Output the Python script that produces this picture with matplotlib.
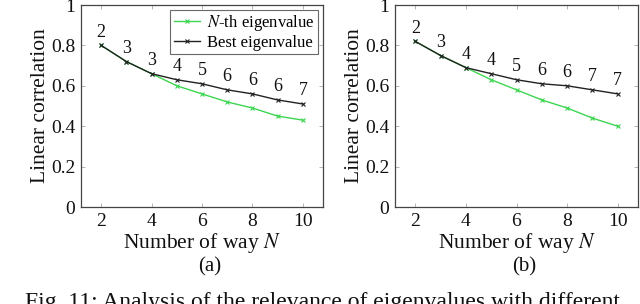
import matplotlib
matplotlib.use("Agg")
import matplotlib.pyplot as plt

plt.rcParams["font.family"] = ["Liberation Serif", "DejaVu Serif"]
plt.rcParams["mathtext.fontset"] = "stix"

ways = [2, 3, 4, 5, 6, 7, 8, 9, 10]

nth_a = [0.80, 0.72, 0.66, 0.60, 0.56, 0.52, 0.49, 0.45, 0.43]
best_a = [0.80, 0.72, 0.66, 0.63, 0.61, 0.58, 0.56, 0.53, 0.51]
best_idx_a = ["2", "3", "3", "4", "5", "6", "6", "6", "7"]

nth_b = [0.82, 0.75, 0.69, 0.63, 0.58, 0.53, 0.49, 0.44, 0.40]
best_b = [0.82, 0.75, 0.69, 0.66, 0.63, 0.61, 0.60, 0.58, 0.56]
best_idx_b = ["2", "3", "4", "4", "5", "6", "6", "7", "7"]

GREEN = "#3cd650"
DARK = "#222222"
FRAME = "#444444"

W, H = 640, 304
fig = plt.figure(figsize=(W / 100, H / 100), dpi=100)


def panel(left_px, width_px, nth, best, idx, sub, legend):
    ax = fig.add_axes([left_px / W, (H - 207) / H, width_px / W, 202 / H])
    ax.plot(ways, nth, color=GREEN, lw=1.0, marker="x", ms=3.2, mew=0.8,
            label=r"$N$-th eigenvalue")
    ax.plot(ways, best, color=DARK, lw=1.0, marker="x", ms=3.2, mew=0.8,
            label="Best eigenvalue")
    for x, y, t in zip(ways, best, idx):
        ax.annotate(t, (x, y), xytext=(0, 13), textcoords="offset pixels",
                    ha="center", va="center", fontsize=13, color="#111111")
    ax.set_xlim(1.2, 10.8)
    ax.set_ylim(0, 1)
    ax.set_xticks([2, 4, 6, 8, 10])
    ax.set_yticks([0, 0.2, 0.4, 0.6, 0.8, 1])
    ax.set_yticklabels(["0", "0.2", "0.4", "0.6", "0.8", "1"])
    ax.tick_params(direction="in", length=3, width=0.6, color="#aaaaaa",
                   top=True, right=True, labelsize=14, pad=4, labelcolor="#111111")
    for s in ax.spines.values():
        s.set_color(FRAME)
        s.set_linewidth(0.9)
    ax.set_xlabel(r"Number of way $N$", fontsize=15.5, labelpad=1, color="#111111")
    ax.set_ylabel("Linear correlation", fontsize=15.5, labelpad=1, color="#111111")
    if legend:
        leg = ax.legend(loc="upper right", fontsize=12, frameon=True, fancybox=False,
                        borderpad=0.2, labelspacing=0.1, handlelength=1.6,
                        handletextpad=0.4, borderaxespad=0.3)
        leg.get_frame().set_edgecolor(FRAME)
        leg.get_frame().set_linewidth(0.8)
    fig.text((left_px + width_px / 2 + 8) / W, 1 - 267 / H, sub, ha="center",
             va="center", fontsize=15, color="#111111")
    return ax


panel(81, 242, nth_a, best_a, best_idx_a, "(a)", True)
panel(395, 243, nth_b, best_b, best_idx_b, "(b)", False)

fig.text(25 / W, 1 - 292 / H,
         "Fig. 11: Analysis of the relevance of eigenvalues with different",
         ha="left", va="top", fontsize=17, color="#111111")

fig.savefig("out.png", dpi=100)
